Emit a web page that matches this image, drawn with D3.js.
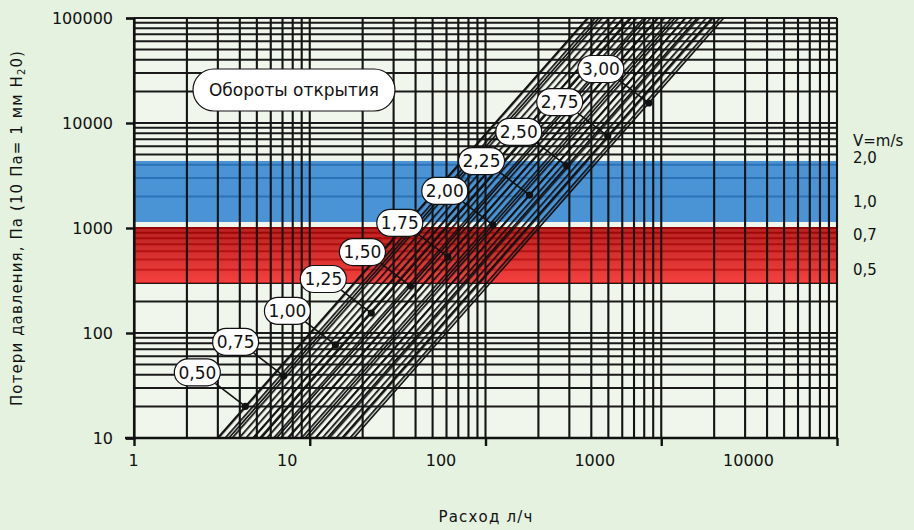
<!DOCTYPE html>
<html>
<head>
<meta charset="utf-8">
<script src="https://cdn.jsdelivr.net/npm/d3@7"></script>
<style>
  body { margin: 0; background: #e4f2df; }
  svg { display: block; font-family: "DejaVu Sans", sans-serif; }
</style>
</head>
<body>
<svg id="chart" width="914" height="530"></svg>
<script>
// number of opening turns, and the marked point on each curve (flow l/h, pressure Pa)
var openings = ["0,50", "0,75", "1,00", "1,25", "1,50", "1,75", "2,00", "2,25", "2,50", "2,75", "3,00"];
var markFlow = [4.3, 7.1, 14, 22.4, 37.4, 61, 110, 178, 290, 496, 850];
var markPressure = [20, 39, 77, 155, 280, 530, 1070, 2060, 3900, 7500, 15500];
var curveExponent = 1.9;

var flowTicks = [1, 10, 100, 1000, 10000];
var pressureTicks = [10, 100, 1000, 10000, 100000];

// coloured pressure bands (red, blue)
var bandLow = [300, 1140];
var bandHigh = [1020, 4350];

// velocity marks on the right
var speedLabels = ["2,0", "1,0", "0,7", "0,5"];
var speedPressure = [4700, 1810, 877, 410];

var svg = d3.select("#chart");

var x = d3.scaleLog().domain([1, 10000]).range([134, 837]);
var xText = d3.scaleLog().domain([1, 10000]).range([133, 748]);
var y = d3.scaleLog().domain([10, 100000]).range([438, 18]);

var plotLeft = x.range()[0], plotRight = x.range()[1];
var plotTop = y.range()[1], plotBottom = y.range()[0];

var defs = svg.append("defs");
defs.append("clipPath").attr("id", "plotClip")
  .append("rect")
  .attr("x", plotLeft).attr("y", plotTop)
  .attr("width", plotRight - plotLeft).attr("height", plotBottom - plotTop);

var redGrad = defs.append("linearGradient").attr("id", "redGrad")
  .attr("x1", 0).attr("x2", 0).attr("y1", 0).attr("y2", 1);
redGrad.append("stop").attr("offset", "0%").attr("stop-color", "#b00000");
redGrad.append("stop").attr("offset", "100%").attr("stop-color", "#f42222");

// hatching parallel to the curves
var dirX = (x(10) - x(1)) / (curveExponent * (y(10) - y(100)));
var hatchAngle = Math.atan(dirX) * 180 / Math.PI;
defs.append("pattern").attr("id", "hatch")
  .attr("patternUnits", "userSpaceOnUse")
  .attr("width", 5.2).attr("height", 10)
  .attr("patternTransform", "rotate(" + hatchAngle + ")")
  .append("line")
  .attr("x1", 1).attr("x2", 1).attr("y1", 0).attr("y2", 10)
  .attr("stroke", "#111").attr("stroke-width", 2);

// plot paper
svg.append("rect")
  .attr("x", plotLeft).attr("y", plotTop)
  .attr("width", plotRight - plotLeft).attr("height", plotBottom - plotTop)
  .attr("fill", "#f0f6ec");

// horizontal grid
svg.append("g")
  .selectAll("line")
  .data(y.ticks())
  .join("line")
  .attr("x1", plotLeft).attr("x2", plotRight)
  .attr("y1", (d) => y(d)).attr("y2", (d) => y(d))
  .attr("stroke", "#1a1a1a")
  .attr("stroke-width", 2);

// bands
var bandFill = ["url(#redGrad)", "#2f82d0"];
svg.append("g")
  .selectAll("rect")
  .data(bandLow)
  .join("rect")
  .attr("x", plotLeft)
  .attr("width", plotRight - plotLeft)
  .attr("y", (d, i) => y(bandHigh[i]))
  .attr("height", (d, i) => y(d) - y(bandHigh[i]))
  .attr("fill", (d, i) => bandFill[i])
  .attr("opacity", 0.86);

// vertical grid
svg.append("g")
  .selectAll("line")
  .data(x.ticks())
  .join("line")
  .attr("x1", (d) => x(d)).attr("x2", (d) => x(d))
  .attr("y1", plotTop).attr("y2", plotBottom)
  .attr("stroke", "#141414")
  .attr("stroke-width", 2.1);

// curves
var flowAt = function (i, p) {
  return markFlow[i] * Math.pow(p / markPressure[i], 1 / curveExponent);
};
var line = d3.line()
  .x((d) => x(d[0]))
  .y((d) => y(d[1]));

var curves = svg.append("g").attr("clip-path", "url(#plotClip)");
var last = openings.length - 1;
var pLow = y.domain()[0], pHigh = y.domain()[1];
var band = [
  [flowAt(0, pLow), pLow], [flowAt(0, pHigh), pHigh],
  [flowAt(last, pHigh), pHigh], [flowAt(last, pLow), pLow]
];
curves.append("path")
  .attr("d", line(band) + "Z")
  .attr("fill", "url(#hatch)")
  .attr("opacity", 0.9);

curves.selectAll("path.curve")
  .data(openings)
  .join("path")
  .attr("class", "curve")
  .attr("d", (d, i) => line([[flowAt(i, pLow), pLow], [flowAt(i, pHigh), pHigh]]))
  .attr("fill", "none")
  .attr("stroke", "#111")
  .attr("stroke-width", 1.6);

// axes
var yAxis = svg.append("g")
  .attr("transform", "translate(" + plotLeft + ",0)")
  .call(d3.axisLeft(y).tickValues(pressureTicks).tickFormat(d3.format("d")).tickSize(8).tickPadding(13));
yAxis.select(".domain").attr("stroke", "#111").attr("stroke-width", 2.2);
yAxis.selectAll(".tick line").attr("stroke", "#111").attr("stroke-width", 2.4);
yAxis.selectAll("text").attr("font-size", 16).attr("fill", "#111")
  .style("font-family", "DejaVu Sans");

var xTicks = svg.append("g")
  .attr("transform", "translate(0," + plotBottom + ")")
  .call(d3.axisBottom(x).tickValues(flowTicks).tickFormat("").tickSize(8));
xTicks.select(".domain").remove();
xTicks.selectAll(".tick line").attr("stroke", "#111").attr("stroke-width", 2.4);
svg.append("line")
  .attr("x1", plotLeft - 9).attr("x2", plotRight)
  .attr("y1", plotBottom).attr("y2", plotBottom)
  .attr("stroke", "#111").attr("stroke-width", 2.6);

var xLabels = svg.append("g")
  .attr("transform", "translate(0," + plotBottom + ")")
  .call(d3.axisBottom(xText).tickValues(flowTicks).tickFormat(d3.format("d")).tickSize(0).tickPadding(17));
xLabels.select(".domain").remove();
xLabels.selectAll("text").attr("font-size", 16).attr("fill", "#111")
  .style("font-family", "DejaVu Sans");

// axis titles
var yTitle = svg.append("text")
  .attr("transform", "translate(22," + (y(10) + y(100000)) / 2 + ") rotate(-90)")
  .attr("text-anchor", "middle")
  .attr("font-size", 15)
  .attr("letter-spacing", 1.1)
  .attr("fill", "#111");
yTitle.append("tspan").text("Потери давления, Па (10 Па= 1 мм H");
yTitle.append("tspan").attr("font-size", 10).attr("dy", 3).text("2");
yTitle.append("tspan").attr("dy", -3).text("0)");

svg.append("text")
  .attr("x", 486).attr("y", 522)
  .attr("text-anchor", "middle")
  .attr("font-size", 15)
  .attr("letter-spacing", 1.2)
  .attr("fill", "#111")
  .text("Расход л/ч");

// velocity labels
var speed = svg.append("g").attr("font-size", 15).attr("fill", "#111");
speed.append("text")
  .attr("x", 853).attr("y", y(speedPressure[0]) - 16)
  .attr("dy", "0.3em")
  .text("V=m/s");
speed.selectAll("text.sp")
  .data(speedLabels)
  .join("text")
  .attr("class", "sp")
  .attr("x", 853)
  .attr("y", (d, i) => y(speedPressure[i]))
  .attr("dy", "0.4em")
  .text((d) => d);

// opening callouts
var callouts = svg.append("g");
var c = callouts.selectAll("g")
  .data(openings)
  .join("g")
  .attr("transform", (d, i) => "translate(" + x(markFlow[i]) + "," + y(markPressure[i]) + ")");
c.append("line")
  .attr("x1", -30).attr("y1", -23)
  .attr("x2", 0).attr("y2", 0)
  .attr("stroke", "#111").attr("stroke-width", 1.6);
c.append("circle").attr("r", 3.6).attr("fill", "#111");
c.append("rect")
  .attr("x", -71).attr("y", -47.5)
  .attr("width", 46).attr("height", 27)
  .attr("rx", 13.5)
  .attr("fill", "#fff")
  .attr("stroke", "#111")
  .attr("stroke-width", 1.2);
c.append("text")
  .attr("x", -48).attr("y", -34)
  .attr("dy", "0.36em")
  .attr("text-anchor", "middle")
  .attr("font-size", 17)
  .attr("fill", "#111")
  .text((d) => d);

// title box
var title = svg.append("g");
title.append("rect")
  .attr("x", 193).attr("y", 69)
  .attr("width", 202).attr("height", 42)
  .attr("rx", 21)
  .attr("fill", "#fff")
  .attr("stroke", "#111")
  .attr("stroke-width", 1.2);
title.append("text")
  .attr("x", 294).attr("y", 90)
  .attr("dy", "0.36em")
  .attr("text-anchor", "middle")
  .attr("font-size", 17)
  .attr("fill", "#111")
  .text("Обороты открытия");
</script>
</body>
</html>
